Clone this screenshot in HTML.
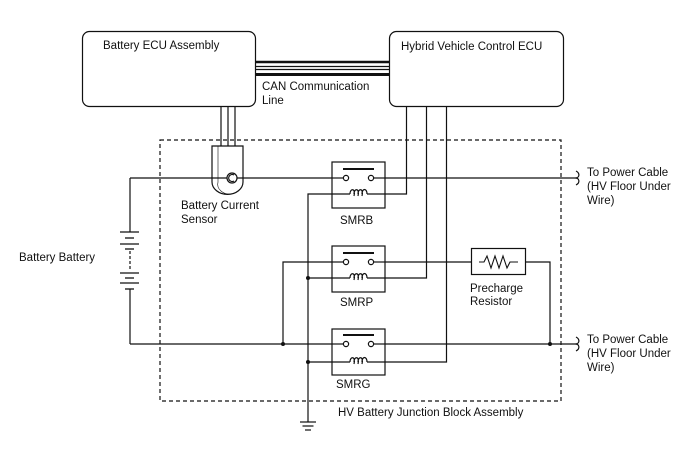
<!DOCTYPE html>
<html><head><meta charset="utf-8"><style>
html,body{margin:0;padding:0;background:#fff;}
svg{display:block;}
text{font-family:"Liberation Sans",Arial,sans-serif;font-size:11.5px;fill:#111;}
</style></head><body>
<svg width="688" height="463" viewBox="0 0 688 463" xmlns="http://www.w3.org/2000/svg">
<g fill="none" stroke="#111" stroke-width="1.2">
<rect x="82.5" y="31.5" width="173" height="75" rx="7"/>
<rect x="389.5" y="31.5" width="174" height="75" rx="7"/>
<rect x="160" y="140" width="401" height="261" stroke-dasharray="4,3"/>
<line x1="256" y1="62" x2="389" y2="62" stroke-width="2.6"/>
<line x1="256" y1="66.5" x2="389" y2="66.5"/>
<line x1="256" y1="69.5" x2="389" y2="69.5"/>
<line x1="256" y1="74.5" x2="389" y2="74.5" stroke-width="3"/>
<line x1="221" y1="107" x2="221" y2="150"/>
<line x1="228" y1="107" x2="228" y2="150"/>
<line x1="235" y1="107" x2="235" y2="150"/>
<path d="M212,146 H243 V182 A15,12 0 0 1 212,182 Z" fill="#fff"/>
<path d="M218,146 V182 A12,10 0 0 0 232,194" stroke-width="0.6"/>
<line x1="130" y1="178" x2="575" y2="178"/>
<circle cx="232" cy="178" r="5" fill="#fff"/>
<path d="M234,175 A3.5,3.5 0 1 0 234,181"/>
<line x1="130" y1="178" x2="130" y2="232"/>
<line x1="130" y1="289" x2="130" y2="344"/>
<g stroke-width="1.3">
<line x1="120" y1="232" x2="139" y2="232"/>
<line x1="125" y1="238" x2="134" y2="238"/>
<line x1="120" y1="244" x2="139" y2="244"/>
<line x1="125" y1="249" x2="134" y2="249"/>
<line x1="120" y1="273" x2="139" y2="273"/>
<line x1="125" y1="278" x2="134" y2="278"/>
<line x1="120" y1="283" x2="139" y2="283"/>
<line x1="125" y1="289" x2="134" y2="289"/>
</g>
<line x1="130" y1="251" x2="130" y2="271" stroke-dasharray="3,2"/>
<line x1="130" y1="344" x2="575" y2="344"/>
<polyline points="406.5,107 406.5,194 370,194"/>
<polyline points="426.5,107 426.5,278 370,278"/>
<polyline points="446.5,107 446.5,362 370,362"/>
<polyline points="348,194 308,194 308,422"/>
<line x1="308" y1="278" x2="348" y2="278"/>
<line x1="308" y1="362" x2="348" y2="362"/>
<line x1="300" y1="422" x2="316" y2="422"/>
<line x1="302.5" y1="426" x2="313.5" y2="426"/>
<line x1="305" y1="430" x2="311" y2="430"/>
<polyline points="283,344 283,262 346,262"/>
<line x1="371" y1="262" x2="471" y2="262"/>
<polyline points="526,262 550,262 550,344"/>
<rect x="471.5" y="248.5" width="54" height="26"/>
<polyline points="479,262 484,262 487,256 491,268 495,256 499,268 503,256 507,268 510,262 518,262" stroke-width="1.1"/>
<rect x="332" y="162" width="53" height="46" fill="#fff"/>
<rect x="332" y="246" width="53" height="46" fill="#fff"/>
<rect x="332" y="329" width="53" height="46" fill="#fff"/>
</g>
<g fill="none" stroke="#111" stroke-width="1.2">
<line x1="332" y1="178" x2="343" y2="178"/><line x1="374" y1="178" x2="385" y2="178"/>
<circle cx="346" cy="178" r="2.6" fill="#fff"/><circle cx="371" cy="178" r="2.6" fill="#fff"/>
<line x1="343" y1="169" x2="374" y2="169" stroke-width="2"/>
<line x1="332" y1="194" x2="350" y2="194"/><line x1="367" y1="194" x2="385" y2="194"/>
<path d="M350,194 C350,188 356,188 354,196 M354,194 C354,188 360,188 358,196 M358,194 C358,188 364,188 362,196 M362,194 C362,188 367,188 367,194"/>
<line x1="332" y1="262" x2="343" y2="262"/><line x1="374" y1="262" x2="385" y2="262"/>
<circle cx="346" cy="262" r="2.6" fill="#fff"/><circle cx="371" cy="262" r="2.6" fill="#fff"/>
<line x1="343" y1="253" x2="374" y2="253" stroke-width="2"/>
<line x1="332" y1="278" x2="350" y2="278"/><line x1="367" y1="278" x2="385" y2="278"/>
<path d="M350,278 C350,272 356,272 354,280 M354,278 C354,272 360,272 358,280 M358,278 C358,272 364,272 362,280 M362,278 C362,272 367,272 367,278"/>
<line x1="332" y1="344" x2="343" y2="344"/><line x1="374" y1="344" x2="385" y2="344"/>
<circle cx="346" cy="344" r="2.6" fill="#fff"/><circle cx="371" cy="344" r="2.6" fill="#fff"/>
<line x1="343" y1="335" x2="374" y2="335" stroke-width="2"/>
<line x1="332" y1="362" x2="350" y2="362"/><line x1="367" y1="362" x2="385" y2="362"/>
<path d="M350,362 C350,356 356,356 354,364 M354,362 C354,356 360,356 358,364 M358,362 C358,356 364,356 362,364 M362,362 C362,356 367,356 367,362"/>
<path d="M575,178 C580,178 580,173 576,171 M576,185 C580,183 580,178 575,178"/>
<path d="M575,344 C580,344 580,339 576,337 M576,351 C580,349 580,344 575,344"/>
</g>
<g fill="#111">
<circle cx="308" cy="278" r="2"/><circle cx="308" cy="362" r="2"/>
<circle cx="283" cy="344" r="2"/><circle cx="550" cy="344" r="2"/>
</g>
<text x="103" y="49">Battery ECU Assembly</text>
<text x="401" y="50">Hybrid Vehicle Control ECU</text>
<text x="262" y="90">CAN Communication</text>
<text x="262" y="104">Line</text>
<text x="181" y="209">Battery Current</text>
<text x="181" y="223">Sensor</text>
<text x="19" y="261">Battery Battery</text>
<text x="340" y="224">SMRB</text>
<text x="340" y="306">SMRP</text>
<text x="336" y="388">SMRG</text>
<text x="470" y="292">Precharge</text>
<text x="470" y="305">Resistor</text>
<text x="338" y="416">HV Battery Junction Block Assembly</text>
<text x="587" y="176">To Power Cable</text>
<text x="587" y="190">(HV Floor Under</text>
<text x="587" y="204">Wire)</text>
<text x="587" y="343">To Power Cable</text>
<text x="587" y="357">(HV Floor Under</text>
<text x="587" y="371">Wire)</text>
</svg>
</body></html>
